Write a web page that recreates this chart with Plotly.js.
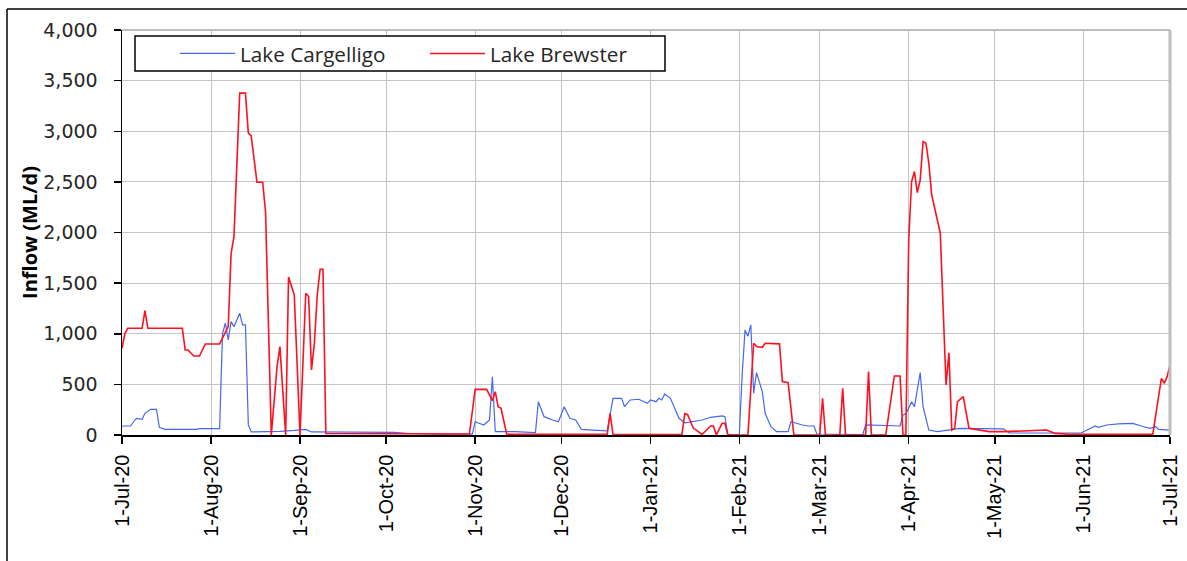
<!DOCTYPE html>
<html>
<head>
<meta charset="utf-8">
<script src="https://cdn.plot.ly/plotly-3.0.1.min.js"></script>
<style>html,body{margin:0;padding:0;background:#fff;}#chart{width:1187px;height:561px;}</style>
</head>
<body>
<div id="chart"></div>
<script>
// Lake Cargelligo (ML/d)
const cargelligoDates = ["2020-07-01","2020-07-04","2020-07-05","2020-07-06","2020-07-08","2020-07-09","2020-07-11","2020-07-13","2020-07-14","2020-07-16","2020-07-27","2020-07-28","2020-08-04","2020-08-05","2020-08-06","2020-08-07","2020-08-08","2020-08-09","2020-08-11","2020-08-12","2020-08-13","2020-08-14","2020-08-15","2020-08-25","2020-08-30","2020-09-02","2020-09-03","2020-09-05","2020-10-04","2020-10-09","2020-10-19","2020-10-31","2020-11-01","2020-11-04","2020-11-06","2020-11-07","2020-11-08","2020-11-15","2020-11-22","2020-11-23","2020-11-25","2020-11-28","2020-11-30","2020-12-02","2020-12-04","2020-12-06","2020-12-08","2020-12-12","2020-12-17","2020-12-19","2020-12-22","2020-12-23","2020-12-25","2020-12-28","2020-12-31","2021-01-01","2021-01-03","2021-01-04","2021-01-05","2021-01-06","2021-01-08","2021-01-11","2021-01-13","2021-01-19","2021-01-22","2021-01-26","2021-01-27","2021-01-28","2021-02-01","2021-02-02","2021-02-03","2021-02-04","2021-02-05","2021-02-06","2021-02-07","2021-02-09","2021-02-10","2021-02-12","2021-02-14","2021-02-18","2021-02-19","2021-02-23","2021-02-25","2021-02-27","2021-02-28","2021-03-16","2021-03-17","2021-03-29","2021-03-30","2021-03-31","2021-04-02","2021-04-03","2021-04-05","2021-04-06","2021-04-08","2021-04-11","2021-04-15","2021-04-19","2021-05-04","2021-05-06","2021-05-31","2021-06-05","2021-06-06","2021-06-09","2021-06-13","2021-06-18","2021-06-21","2021-06-24","2021-06-26","2021-06-27","2021-07-01"];
const cargelligoValues = [89,89,131,165,155,214,254,254,76,56,56,63,63,1000,1104,939,1120,1070,1202,1087,1087,100,30,35,45,56,56,30,25,15,8,8,131,99,148,576,33,33,23,329,181,148,131,280,165,148,56,49,40,362,362,280,346,353,313,346,329,362,346,405,362,165,121,148,175,188,181,5,5,600,1038,976,1087,412,616,428,214,82,33,33,131,99,89,89,10,5,99,89,198,208,329,280,616,280,49,33,49,66,60,20,20,89,76,99,109,115,89,66,82,56,49];

// Lake Brewster (ML/d)
const brewsterDates = ["2020-07-01","2020-07-02","2020-07-03","2020-07-08","2020-07-09","2020-07-10","2020-07-22","2020-07-23","2020-07-24","2020-07-26","2020-07-28","2020-07-30","2020-08-04","2020-08-05","2020-08-07","2020-08-08","2020-08-09","2020-08-11","2020-08-13","2020-08-14","2020-08-15","2020-08-17","2020-08-19","2020-08-20","2020-08-21","2020-08-22","2020-08-24","2020-08-25","2020-08-27","2020-08-28","2020-08-30","2020-09-01","2020-09-03","2020-09-04","2020-09-05","2020-09-06","2020-09-07","2020-09-08","2020-09-09","2020-09-10","2020-10-30","2020-11-01","2020-11-05","2020-11-06","2020-11-07","2020-11-08","2020-11-09","2020-11-10","2020-11-12","2020-12-17","2020-12-18","2020-12-19","2021-01-12","2021-01-13","2021-01-14","2021-01-16","2021-01-17","2021-01-19","2021-01-22","2021-01-23","2021-01-24","2021-01-26","2021-01-27","2021-01-28","2021-02-04","2021-02-06","2021-02-07","2021-02-09","2021-02-10","2021-02-15","2021-02-16","2021-02-18","2021-02-20","2021-03-01","2021-03-02","2021-03-03","2021-03-08","2021-03-09","2021-03-10","2021-03-17","2021-03-18","2021-03-19","2021-03-24","2021-03-27","2021-03-29","2021-03-30","2021-03-31","2021-04-01","2021-04-02","2021-04-03","2021-04-04","2021-04-05","2021-04-06","2021-04-07","2021-04-08","2021-04-09","2021-04-10","2021-04-12","2021-04-14","2021-04-15","2021-04-16","2021-04-17","2021-04-18","2021-04-20","2021-04-22","2021-04-26","2021-04-29","2021-05-04","2021-05-12","2021-05-19","2021-05-22","2021-05-27","2021-06-25","2021-06-26","2021-06-28","2021-06-29","2021-06-30","2021-07-01"];
const brewsterValues = [857,1000,1054,1054,1228,1054,1054,840,840,780,780,899,899,960,1070,1795,1960,3377,3377,2981,2955,2497,2497,2200,1000,0,675,873,0,1560,1383,0,1400,1367,642,906,1380,1637,1637,15,10,451,451,395,339,428,280,264,7,7,214,5,5,211,201,66,49,5,89,89,0,115,115,0,0,906,873,866,906,900,527,517,0,0,362,0,0,461,0,0,626,0,0,583,583,0,0,1927,2503,2602,2394,2520,2898,2882,2685,2372,2256,1993,494,813,49,66,329,379,66,49,33,33,40,49,16,7,7,181,560,511,576,692];

const seriesNames = ["Lake Cargelligo", "Lake Brewster"];
const tickDates = ["2020-07-01","2020-08-01","2020-09-01","2020-10-01","2020-11-01","2020-12-01","2021-01-01","2021-02-01","2021-03-01","2021-04-01","2021-05-01","2021-06-01","2021-07-01"];
const tickLabels = ["1-Jul-20","1-Aug-20","1-Sep-20","1-Oct-20","1-Nov-20","1-Dec-20","1-Jan-21","1-Feb-21","1-Mar-21","1-Apr-21","1-May-21","1-Jun-21","1-Jul-21"];
const yTickVals = [0,500,1000,1500,2000,2500,3000,3500,4000];

const W = 1187, H = 561;
const L = 122, R = 1170, T = 30, B = 435;
const pw = R - L, ph = B - T;
const px = x => (x - L) / pw;
const py = y => (B - y) / ph;

const traces = [
  {x: cargelligoDates, y: cargelligoValues, name: seriesNames[0], type: 'scatter', mode: 'lines',
   line: {color: '#4468F0', width: 1.2}, hoverinfo: 'skip'},
  {x: brewsterDates, y: brewsterValues, name: seriesNames[1], type: 'scatter', mode: 'lines',
   line: {color: '#FF1020', width: 1.6}, hoverinfo: 'skip'}
];

const layout = {
  width: W, height: H,
  margin: {l: L, r: W - R, t: T, b: H - B, pad: 0},
  paper_bgcolor: '#ffffff', plot_bgcolor: '#ffffff',
  showlegend: true,
  legend: {
    orientation: 'h', x: px(175), y: py(53.5), xanchor: 'left', yanchor: 'middle',
    bgcolor: 'rgba(0,0,0,0)', borderwidth: 0,
    itemwidth: 55,
    entrywidth: 180, entrywidthmode: 'pixels',
    font: {family: 'Open Sans', size: 20.7, color: '#262626'}
  },
  xaxis: {
    type: 'date', range: ['2020-07-01', '2021-07-01'],
    tickmode: 'array', tickvals: tickDates, ticktext: tickLabels,
    tickangle: -90, ticks: 'outside', ticklen: 7, tickcolor: '#000', tickwidth: 1.5,
    ticklabelstandoff: 3,
    showline: true, linecolor: '#000', linewidth: 1.5,
    showgrid: true, gridcolor: '#C4C4C4', gridwidth: 1,
    zeroline: false,
    tickfont: {family: 'Liberation Sans', size: 20, color: '#000'}
  },
  yaxis: {
    range: [0, 4000], tickmode: 'array', tickvals: yTickVals, tickformat: ',d',
    ticks: 'outside', ticklen: 7, tickcolor: '#000', tickwidth: 1.5,
    ticklabelstandoff: 12,
    showline: true, linecolor: '#000', linewidth: 1.5,
    showgrid: true, gridcolor: '#C4C4C4', gridwidth: 1,
    zeroline: false,
    tickfont: {family: 'DejaVu Sans', size: 19, color: '#262626'},
    title: {text: 'Inflow (ML/d)', standoff: 0,
            font: {family: 'Open Sans', size: 20, color: '#000', weight: 'bold'}}
  },
  shapes: [
    {type: 'line', xref: 'paper', yref: 'paper', x0: 0, x1: 1, y0: 1, y1: 1, line: {color: '#BDBDBD', width: 2}},
    {type: 'line', xref: 'paper', yref: 'paper', x0: 1, x1: 1, y0: 0, y1: 1, line: {color: '#BDBDBD', width: 3}},
    {type: 'line', xref: 'paper', yref: 'paper', x0: px(7), x1: px(1190), y0: py(9), y1: py(9), line: {color: '#000', width: 1.5}},
    {type: 'line', xref: 'paper', yref: 'paper', x0: px(7), x1: px(7), y0: py(9), y1: py(565), line: {color: '#000', width: 1.5}},
    {type: 'rect', xref: 'paper', yref: 'paper', x0: px(135), x1: px(665), y0: py(36), y1: py(71),
     line: {color: '#000', width: 1.5}, fillcolor: '#ffffff', layer: 'above'}
  ]
};

Plotly.newPlot('chart', traces, layout, {staticPlot: true, displayModeBar: false});
</script>
</body>
</html>
